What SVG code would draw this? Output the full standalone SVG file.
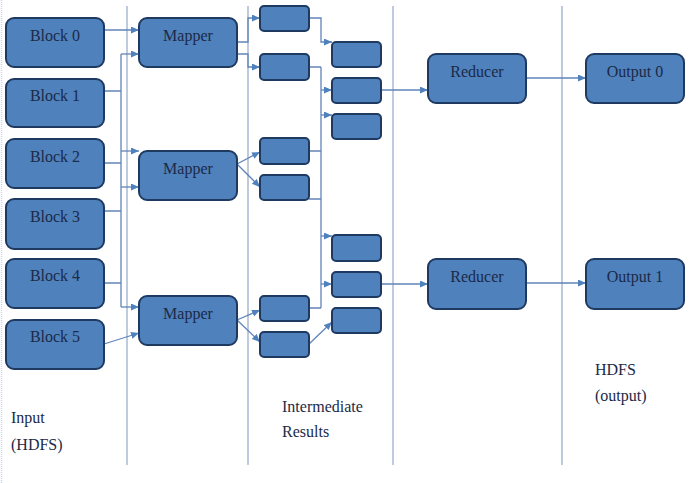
<svg xmlns="http://www.w3.org/2000/svg" width="690" height="483" viewBox="0 0 690 483">
<defs>
<marker id="arr" markerWidth="9" markerHeight="8" refX="8" refY="3.5" orient="auto" markerUnits="userSpaceOnUse">
<path d="M0,0 L8,3.5 L0,7 z" fill="#4f81bd"/>
</marker>
<style>
.box{fill:#4f81bd;stroke:#1f3a60;stroke-width:2}
.t{font-family:"Liberation Serif","Times New Roman",serif;font-size:16px;fill:#1b2a47}
.c{text-anchor:middle}
.sep{stroke:#a9b9d3;stroke-width:1.5;fill:none}
.ln{stroke:#6184b8;stroke-width:1.3;fill:none}
.ar{marker-end:url(#arr)}
</style>
</defs>
<rect width="690" height="483" fill="#ffffff"/>
<g id="separators">
<line class="sep" x1="1.5" y1="0" x2="1.5" y2="483" stroke-dasharray="1 1" opacity="0.6"/>
<line class="sep" x1="127" y1="6" x2="127" y2="465"/>
<line class="sep" x1="248" y1="6" x2="248" y2="465"/>
<line class="sep" x1="393" y1="6" x2="393" y2="465"/>
<line class="sep" x1="562" y1="6" x2="562" y2="465"/>
</g>
<g id="connectors">
<path class="ln ar" d="M104,30 H139"/>
<path class="ln" d="M104,91 H121 M104,163 H121 M104,211 H121 M104,283 H121 M121,54 V307"/>
<path class="ln ar" d="M121,54 H139"/>
<path class="ln ar" d="M121,151 H139"/>
<path class="ln ar" d="M121,187 H139"/>
<path class="ln ar" d="M121,307 H139"/>
<path class="ln ar" d="M104,344 L139,333"/>
<path class="ln ar" d="M237,42 H248 V18 H260"/>
<path class="ln ar" d="M237,54 H248 V67 H260"/>
<path class="ln ar" d="M237,164 L260,152"/>
<path class="ln ar" d="M237,164 L260,187"/>
<path class="ln ar" d="M237,320 L260,310"/>
<path class="ln ar" d="M237,320 L260,342"/>
<path class="ln ar" d="M309,18 H321 V42 H332"/>
<path class="ln" d="M309,67 H321 M309,151 H321 M309,199 H321 M309,308 H321 M321,67 V308"/>
<path class="ln ar" d="M321,90 H332"/>
<path class="ln ar" d="M321,115 H332"/>
<path class="ln ar" d="M321,236 H332"/>
<path class="ln ar" d="M321,284 H332"/>
<path class="ln ar" d="M309,344 L332,322"/>
<path class="ln ar" d="M381,90 H428"/>
<path class="ln ar" d="M381,284 H428"/>
<path class="ln ar" d="M526,78 H586"/>
<path class="ln ar" d="M526,283 H586"/>
</g>
<g id="block0"><rect class="box" x="6" y="18" width="98" height="49" rx="8"/><text class="t c" x="55" y="41">Block 0</text></g>
<g id="block1"><rect class="box" x="6" y="79" width="98" height="48" rx="8"/><text class="t c" x="55" y="101">Block 1</text></g>
<g id="block2"><rect class="box" x="6" y="139" width="98" height="49" rx="8"/><text class="t c" x="55" y="162">Block 2</text></g>
<g id="block3"><rect class="box" x="6" y="199" width="98" height="50" rx="8"/><text class="t c" x="55" y="222">Block 3</text></g>
<g id="block4"><rect class="box" x="6" y="259" width="98" height="49" rx="8"/><text class="t c" x="55" y="281">Block 4</text></g>
<g id="block5"><rect class="box" x="6" y="320" width="98" height="49" rx="8"/><text class="t c" x="55" y="342">Block 5</text></g>
<g id="mapper1"><rect class="box" x="139" y="18" width="98" height="49" rx="8"/><text class="t c" x="188" y="41">Mapper</text></g>
<g id="mapper2"><rect class="box" x="139" y="151" width="98" height="49" rx="8"/><text class="t c" x="188" y="174">Mapper</text></g>
<g id="mapper3"><rect class="box" x="139" y="296" width="98" height="49" rx="8"/><text class="t c" x="188" y="319">Mapper</text></g>
<g id="inter1"><rect class="box" x="260" y="6" width="49" height="25" rx="4"/></g>
<g id="inter2"><rect class="box" x="260" y="54" width="49" height="26" rx="4"/></g>
<g id="inter3"><rect class="box" x="260" y="138" width="49" height="26" rx="4"/></g>
<g id="inter4"><rect class="box" x="260" y="175" width="49" height="25" rx="4"/></g>
<g id="inter5"><rect class="box" x="260" y="296" width="49" height="25" rx="4"/></g>
<g id="inter6"><rect class="box" x="260" y="332" width="49" height="25" rx="4"/></g>
<g id="sort1"><rect class="box" x="332" y="42" width="49" height="25" rx="4"/></g>
<g id="sort2"><rect class="box" x="332" y="78" width="49" height="25" rx="4"/></g>
<g id="sort3"><rect class="box" x="332" y="114" width="49" height="25" rx="4"/></g>
<g id="sort4"><rect class="box" x="332" y="235" width="49" height="26" rx="4"/></g>
<g id="sort5"><rect class="box" x="332" y="272" width="49" height="25" rx="4"/></g>
<g id="sort6"><rect class="box" x="332" y="308" width="49" height="25" rx="4"/></g>
<g id="reducer1"><rect class="box" x="428" y="54" width="98" height="49" rx="8"/><text class="t c" x="477" y="77">Reducer</text></g>
<g id="reducer2"><rect class="box" x="428" y="259" width="98" height="50" rx="8"/><text class="t c" x="477" y="282">Reducer</text></g>
<g id="output0"><rect class="box" x="586" y="54" width="98" height="49" rx="8"/><text class="t c" x="635" y="77">Output 0</text></g>
<g id="output1"><rect class="box" x="586" y="259" width="98" height="50" rx="8"/><text class="t c" x="635" y="282">Output 1</text></g>
<g id="labels">
<text class="t" x="11" y="423">Input</text>
<text class="t" x="11" y="450">(HDFS)</text>
<text class="t" x="282" y="412">Intermediate</text>
<text class="t" x="282" y="437">Results</text>
<text class="t" x="595" y="375">HDFS</text>
<text class="t" x="595" y="401">(output)</text>
</g>
</svg>
